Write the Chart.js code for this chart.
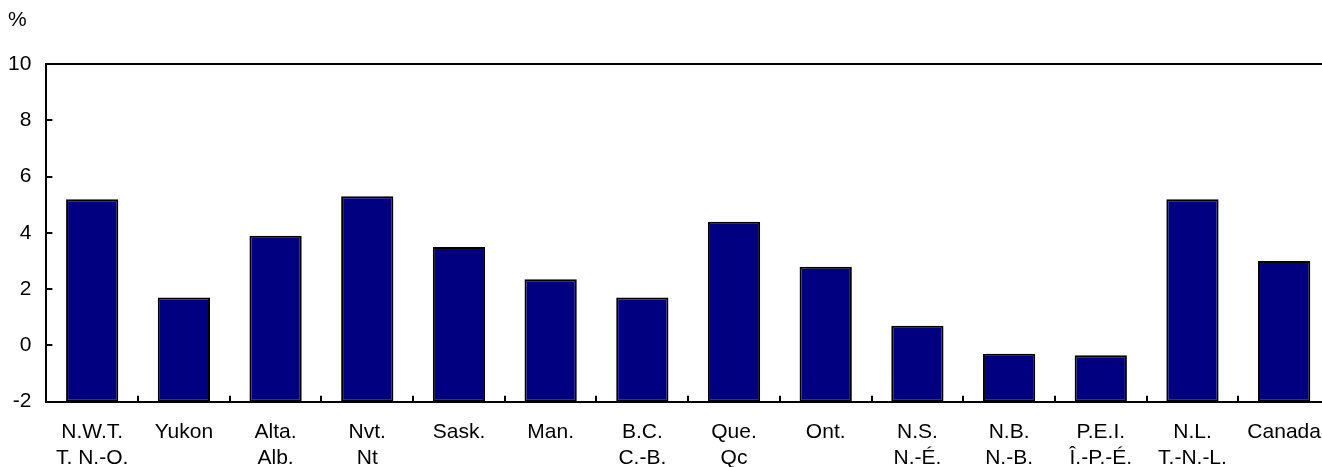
<!DOCTYPE html>
<html>
<head>
<meta charset="utf-8">
<script src="https://cdn.jsdelivr.net/npm/chart.js@4"></script>
<style>
  html, body { margin: 0; padding: 0; background: #fff; overflow: hidden; }
  #c { display: block; }
</style>
</head>
<body>
<canvas id="c" width="1330" height="472"></canvas>
<script>
const categories = [
  ['N.W.T.', 'T. N.-O.'], ['Yukon'], ['Alta.', 'Alb.'], ['Nvt.', 'Nt'], ['Sask.'], ['Man.'],
  ['B.C.', 'C.-B.'], ['Que.', 'Qc'], ['Ont.'], ['N.S.', 'N.-É.'], ['N.B.', 'N.-B.'],
  ['P.E.I.', 'Î.-P.-É.'], ['N.L.', 'T.-N.-L.'], ['Canada']
];
const values = [5.2, 1.7, 3.9, 5.3, 3.5, 2.35, 1.7, 4.4, 2.8, 0.7, -0.3, -0.35, 5.2, 3.0];
const yMin = -2, yMax = 10, yStep = 2;
const unitLabel = '%';

const FONT = "'Liberation Sans', Arial, Helvetica, sans-serif";

// inward tick marks drawn from the library's own scales
const innerTicks = {
  id: 'innerTicks',
  afterDatasetsDraw(chart) {
    const { ctx, chartArea, scales } = chart;
    const len = 6;
    ctx.save();
    ctx.strokeStyle = '#000';
    ctx.lineWidth = 2;
    ctx.beginPath();
    const ys = scales.y;
    ys.ticks.forEach((t, i) => {
      const py = Math.round(ys.getPixelForTick(i));
      ctx.moveTo(chartArea.left, py);
      ctx.lineTo(chartArea.left + len, py);
    });
    const xs = scales.x;
    for (let i = 1; i < xs.ticks.length; i++) {
      const px = Math.round((xs.getPixelForTick(i - 1) + xs.getPixelForTick(i)) / 2);
      ctx.moveTo(px, chartArea.bottom);
      ctx.lineTo(px, chartArea.bottom - len);
    }
    ctx.stroke();
    ctx.restore();
  }
};

const chart = new Chart(document.getElementById('c'), {
  type: 'bar',
  data: {
    labels: categories,
    datasets: [{
      data: values,
      base: yMin,
      backgroundColor: '#000080',
      borderColor: '#000000',
      borderWidth: 2,
      borderSkipped: false,
      categoryPercentage: 1.0,
      barPercentage: 0.57
    }]
  },
  options: {
    responsive: false,
    animation: false,
    layout: { padding: { left: 8, right: 0, top: 0, bottom: 0 } },
    plugins: {
      legend: { display: false },
      tooltip: { enabled: false },
      title: {
        display: true,
        text: unitLabel,
        align: 'start',
        color: '#000',
        font: { family: FONT, size: 21, weight: 'normal', lineHeight: 1.2 },
        padding: { top: 8, bottom: 31 }
      }
    },
    scales: {
      x: {
        position: 'bottom',
        grid: { display: false, drawTicks: false },
        border: { display: true, color: '#000', width: 2 },
        ticks: {
          color: '#000',
          padding: 17,
          maxRotation: 0,
          autoSkip: false,
          font: { family: FONT, size: 21, lineHeight: 1.27 }
        },
        afterFit(scale) {
          scale.height -= scale.options.ticks.padding;
          scale.paddingLeft = 0;
          scale.paddingRight = 0;
        }
      },
      xTop: {
        position: 'top',
        grid: { display: false, drawTicks: false },
        border: { display: true, color: '#000', width: 2 },
        ticks: { display: false }
      },
      y: {
        min: yMin,
        max: yMax,
        grid: { display: false, drawTicks: false },
        border: { display: true, color: '#000', width: 2 },
        ticks: {
          stepSize: yStep,
          color: '#000',
          padding: 15,
          font: { family: FONT, size: 21 }
        },
        afterFit(scale) {
          scale.width -= scale.options.ticks.padding;
        }
      }
    }
  },
  plugins: [innerTicks]
});
</script>
</body>
</html>
